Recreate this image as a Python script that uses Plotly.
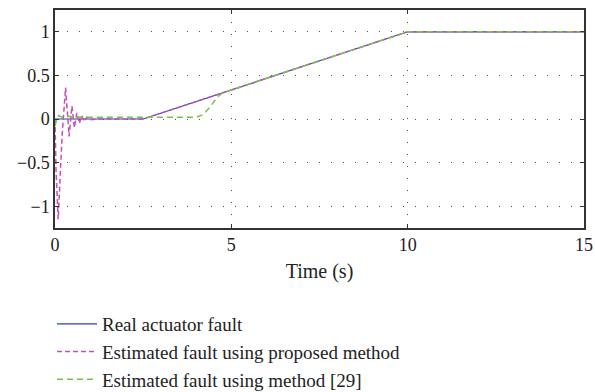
import plotly.graph_objects as go

# Data
t_real = [0, 2.5, 10, 15]
y_real = [0, 0, 1, 1]

t_prop = [0, 0.03, 0.09, 0.2, 0.3, 0.4, 0.48, 0.55, 0.62, 0.69, 0.76, 0.83, 0.9, 1.0, 1.2, 2.5, 5, 7.5, 10, 15]
y_prop = [0, -0.6, -1.15, -0.2, 0.36, -0.2, 0.15, -0.1, 0.07, -0.05, 0.04, -0.03, 0.02, -0.01, 0, 0, 0.333, 0.667, 1, 1]

t_m29 = [0, 0.05, 0.1, 0.2, 0.4, 0.6, 1.0, 2.0, 3.0, 4.0, 4.2, 4.4, 4.6, 4.75, 5, 10, 15]
y_m29 = [-0.08, 0.0, 0.04, 0.02, 0.03, 0.02, 0.02, 0.02, 0.02, 0.02, 0.05, 0.14, 0.25, 0.3, 0.333, 1, 1]

x_ticks = [0, 5, 10, 15]
y_ticks = [-1, -0.5, 0, 0.5, 1]
y_tick_labels = ["\u22121", "\u22120.5", "0", "0.5", "1"]

names = ["Real actuator fault",
         "Estimated fault using proposed method",
         "Estimated fault using method [29]"]

font_family = "Liberation Serif"

fig = go.Figure()
fig.add_trace(go.Scatter(x=t_real, y=y_real, mode="lines", name=names[0],
                         line=dict(color="#2b3fc0", width=1.2)))
fig.add_trace(go.Scatter(x=t_prop, y=y_prop, mode="lines", name=names[1],
                         line=dict(color="#c450b4", width=1.5, dash="5px,3px")))
fig.add_trace(go.Scatter(x=t_m29, y=y_m29, mode="lines", name=names[2],
                         line=dict(color="#78c445", width=1.5, dash="6px,4px")))

axis_common = dict(
    showline=True, linecolor="#333333", linewidth=1.5, mirror="ticks",
    ticks="inside", ticklen=4, tickcolor="#333333", tickwidth=1,
    showgrid=True, gridcolor="#555555", gridwidth=1, griddash="1px,11px",
    zeroline=False,
    tickfont=dict(family=font_family, size=18, color="#222222"),
)

fig.update_xaxes(range=[0, 15], tickvals=x_ticks,
                 title=dict(text="Time (s)", font=dict(family=font_family, size=20, color="#222222"), standoff=10),
                 **axis_common)
fig.update_yaxes(range=[-1.25, 1.25], tickvals=y_ticks, ticktext=y_tick_labels,
                 **axis_common)

fig.update_layout(
    width=595, height=392,
    margin=dict(l=55, r=11, t=10, b=164, autoexpand=False),
    plot_bgcolor="white", paper_bgcolor="white",
    font=dict(family=font_family, size=18, color="#222222"),
    showlegend=True,
    legend=dict(xref="container", yref="container",
                x=52 / 595, y=1 - 305 / 392, xanchor="left", yanchor="top",
                orientation="v", bgcolor="rgba(0,0,0,0)",
                font=dict(family=font_family, size=19, color="#222222"),
                tracegroupgap=0, itemwidth=40),
)

fig.write_html("out.html")
